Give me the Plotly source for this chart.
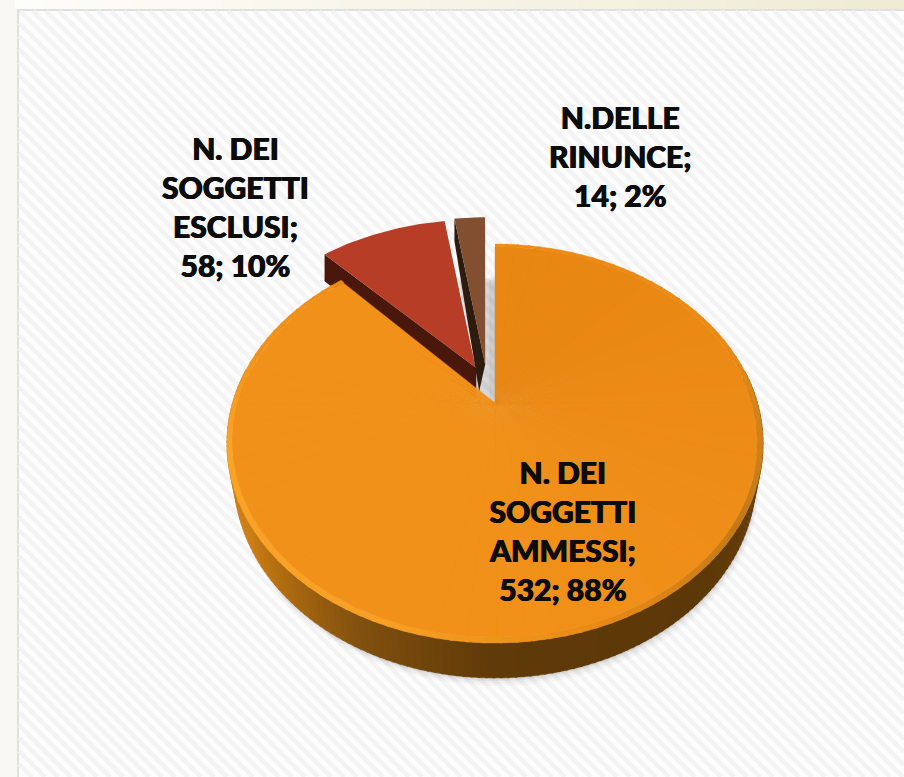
import math
import plotly.graph_objects as go

# ---- data ----
categories = ["N. DEI SOGGETTI AMMESSI", "N. DEI SOGGETTI ESCLUSI", "N.DELLE RINUNCE"]
values = [532, 58, 14]
label_lines = [["N. DEI", "SOGGETTI", "AMMESSI;"], ["N. DEI", "SOGGETTI", "ESCLUSI;"], ["N.DELLE", "RINUNCE;"]]

# ---- style ----
face_colors = ["#ED8B16", "#B83D26", "#825030"]
wall_colors = [None, "#4A170C", "#2E1B10"]
offsets = [(0.0, 0.0), (-0.09, 0.19), (-0.047, 0.21)]   # exploded slices, in disc units
apex_shift = [0, 4, 2]                                   # px, tip of each face
wall_shift = [0, 4, -4]                                  # px, lower tip of each side wall
depths = [34, 32, 28]
label_pos = [(562, 530), (235, 206), (620, 156)]
FONT = "Lato"

W, H = 904, 777
X0, Y0, A, B, K = 495, 403, 262.5, 191.3, 0.203


def proj(u, v, depth=0.0):
    w = 1 + K * v
    return X0 + A * u / w, Y0 - B * v / w + depth / w


def mix(c1, c2, t):
    t = max(0, min(1, t))
    return "#%02x%02x%02x" % tuple(round(a + (b - a) * t) for a, b in zip(c1, c2))


def ramp(stops, t):
    for (t0, c0), (t1, c1) in zip(stops, stops[1:]):
        if t <= t1:
            return mix(c0, c1, (t - t0) / (t1 - t0))
    return mix(stops[-1][1], stops[-1][1], 0)


fig = go.Figure()


def poly(xs, ys, fill, line=None, lw=0.0):
    fig.add_trace(go.Scatter(
        x=xs, y=ys, mode="lines", fill="toself", fillcolor=fill,
        line=dict(color=line or fill, width=lw), hoverinfo="skip", showlegend=False))


def arc(a0, a1, r=1.0, off=(0, 0), depth=0.0, n=120):
    pts = []
    for i in range(n + 1):
        a = math.radians(a0 + (a1 - a0) * i / n)
        pts.append(proj(off[0] + r * math.sin(a), off[1] + r * math.cos(a), depth))
    return pts


total = sum(values)
angles = [0.0]
for v in values:
    angles.append(angles[-1] + 360.0 * v / total)
percent = [round(100 * v / total) for v in values]

# ---- background ----
shapes = [
    dict(type="rect", xref="x", yref="y", x0=0, x1=W, y0=0, y1=H, fillcolor="#F9F8F2", line_width=0, layer="below"),
]
for i in range(30):
    x0 = 15 + i * (W - 15) / 30
    x1 = 15 + (i + 1) * (W - 15) / 30
    shapes.append(dict(type="rect", xref="x", yref="y", x0=x0, x1=x1 + 1, y0=0, y1=9,
                       fillcolor=mix((253, 253, 249), (239, 235, 213), i / 29), line_width=0, layer="below"))
shapes.append(dict(type="rect", xref="x", yref="y", x0=17, x1=W, y0=9, y1=H, fillcolor="#DFDFDD", line_width=0, layer="below"))
shapes.append(dict(type="rect", xref="x", yref="y", x0=19, x1=W, y0=11, y1=H, fillcolor="#FDFDFD", line_width=0, layer="below"))

# diagonal hatching of the panel
hx, hy = [], []
period = 13
s = 19 - (H - 11)
while s < W:
    xa, ya = s, 11
    if xa < 19:
        ya, xa = 11 + (19 - xa), 19
    xb = s + (H - 11)
    yb = H
    if xb > W:
        yb = H - (xb - W)
        xb = W
    hx += [xa, xb, None]
    hy += [ya, yb, None]
    s += period
fig.add_trace(go.Scatter(x=hx, y=hy, mode="lines", line=dict(color="#F3F3F3", width=4.5),
                         hoverinfo="skip", showlegend=False))

# ---- soft shadow below the disc ----
for grow, alpha in [(10, 0.03), (7, 0.045), (4, 0.06), (2, 0.08)]:
    pts = [(x + grow * 0.3, y + grow * 0.8) for x, y in arc(0, 360, 0.975, depth=depths[0])]
    poly([p[0] for p in pts], [p[1] for p in pts], f"rgba(60,60,60,{alpha})")

# grey shade in the gap next to the main slice
poly([X0 - 6, X0, X0, X0 - 6], [280, 280, 400, 400], "rgba(120,120,120,0.10)")

# ---- exploded slices ----
for idx in (1, 2):
    a0, a1 = angles[idx], angles[idx + 1]
    off, dep = offsets[idx], depths[idx]
    apex = proj(off[0], off[1])
    apex = (apex[0] + apex_shift[idx], apex[1])
    apex_low = proj(off[0], off[1], dep)
    apex_low = (apex_low[0] + wall_shift[idx], apex_low[1])
    edge = arc(a0, a0, 1.0, off)[0]
    edge_low = arc(a0, a0, 1.0, off, dep)[0]
    poly([apex[0], edge[0], edge_low[0], apex_low[0]],
         [apex[1], edge[1], edge_low[1], apex_low[1]], wall_colors[idx])
    pts = [apex] + arc(a0, a1, 1.0, off, n=30) + [apex]
    poly([p[0] for p in pts], [p[1] for p in pts], face_colors[idx])
    if idx == 1:  # thin light edge on the red slice's right side
        e = arc(a1, a1, 1.0, off)[0]
        fig.add_trace(go.Scatter(x=[apex[0], e[0]], y=[apex[1], e[1]], mode="lines",
                                 line=dict(color="#FFFFFF", width=1.2), hoverinfo="skip", showlegend=False))

# ---- main slice: wall, rim, face ----
a0, a1 = angles[0], angles[1]
wall_stops = [(0.0, (108, 68, 12)), (0.30, (92, 56, 8)), (0.50, (96, 58, 9)),
              (0.62, (128, 80, 14)), (0.72, (176, 108, 16)), (0.78, (205, 125, 20)), (1.0, (205, 125, 20))]
N = 150
# wall is visible only on the lower half of the disc: from the right extreme to the left extreme
for i in range(N):
    t0, t1 = i / N, (i + 1) / N
    b0, b1 = 80 + 200 * t0, 80 + 200 * t1
    top = arc(b0, b1 + 0.4, 1.0, n=3)
    low = arc(b0, b1 + 0.4, 0.975, depth=depths[0], n=3)
    col = ramp(wall_stops, t0)
    poly([p[0] for p in top] + [p[0] for p in reversed(low)],
         [p[1] for p in top] + [p[1] for p in reversed(low)], col, lw=0.5)

# bevelled rim of the face: flat on top, dark on the right, light on the lower left
# stops are given in degrees clockwise from twelve o'clock
rim_deg = [(0, (236, 139, 21)), (70, (234, 137, 20)), (95, (206, 130, 30)), (125, (196, 122, 20)),
           (160, (232, 138, 20)), (200, (248, 160, 36)), (255, (250, 165, 40)), (285, (240, 146, 26)),
           (320, (238, 141, 23))]
M = 110
for i in range(M):
    b0 = a0 + (a1 - a0) * i / M
    b1 = a0 + (a1 - a0) * (i + 1) / M
    out = arc(b0, b1 + 0.5, 1.0, n=2)
    inn = arc(b0, b1 + 0.5, 0.98, n=2)
    col = ramp(rim_deg, b0)
    poly([p[0] for p in out] + [p[0] for p in reversed(inn)],
         [p[1] for p in out] + [p[1] for p in reversed(inn)], col, lw=0.4)

# flat face with a faint left/right gradient
face_a, face_b = (233, 135, 19), (241, 145, 26)
S = 60
apex = proj(0, 0)
for i in range(S):
    t0, t1 = i / S, (i + 1) / S
    b0, b1 = a0 + (a1 - a0) * t0, a0 + (a1 - a0) * t1
    pts = [apex] + arc(b0, b1 + 0.3, 0.98, n=6) + [apex]
    col = mix(face_a, face_b, min(1, max(0, (t0 - 0.1) / 0.45)))
    poly([p[0] for p in pts], [p[1] for p in pts], col, lw=0.4)

# ---- labels ----
annotations = []
for idx, (lines, pos) in enumerate(zip(label_lines, label_pos)):
    rows = lines + [f"{values[idx]}; {percent[idx]}%"]
    annotations.append(dict(x=pos[0], y=pos[1], xref="x", yref="y", text="<br>".join(rows), showarrow=False,
                            align="center", xanchor="center", yanchor="middle",
                            font=dict(family=FONT, size=30, color="#0C0C0C", weight=900,
                                      shadow="0.5px 0 0 #0C0C0C, -0.5px 0 0 #0C0C0C")))

fig.update_layout(
    width=W, height=H, margin=dict(l=0, r=0, t=0, b=0), showlegend=False,
    paper_bgcolor="#F9F8F2", plot_bgcolor="#F9F8F2", shapes=shapes, annotations=annotations,
    xaxis=dict(range=[0, W], visible=False, fixedrange=True),
    yaxis=dict(range=[H, 0], visible=False, fixedrange=True),
)
fig.write_html("out.html", config={"displayModeBar": False},
               post_script="document.body.style.margin='0';document.documentElement.style.overflow='hidden';")
